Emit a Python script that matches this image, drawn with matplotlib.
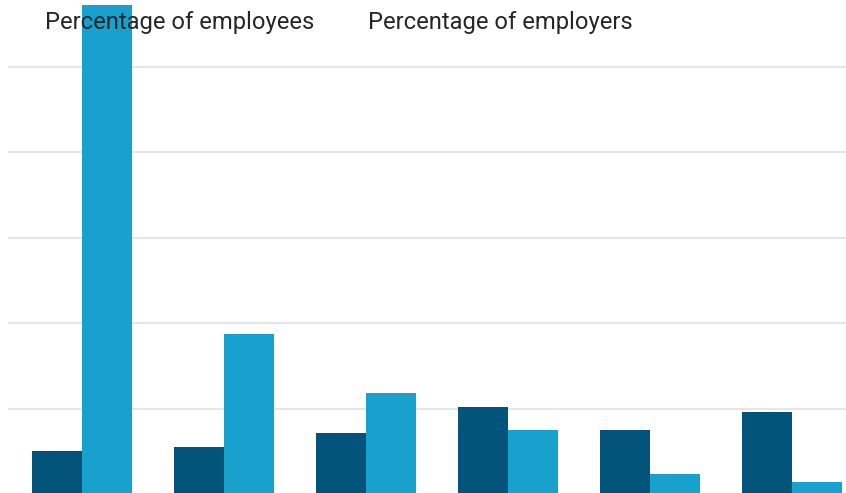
import matplotlib.pyplot as plt
import numpy as np

plt.rcParams['font.family'] = ['Roboto', 'DejaVu Sans']

# data (grid step = 10)
groups = ['1', '2', '3', '4', '5', '6']
employees = [5.1, 5.6, 7.2, 10.2, 7.5, 9.6]
employers = [57.2, 18.8, 11.9, 7.5, 2.4, 1.5]
labels = ['Percentage of employees', 'Percentage of employers']

c_dark = '#03547b'
c_light = '#19a1ce'

fig = plt.figure(figsize=(8.46, 4.93), dpi=100)
ax = fig.add_axes([8/846, -1.6/493, 838/846, 494.6/493])

x = np.arange(len(groups))
w = 0.352
ax.bar(x - w/2, employees, w, color=c_dark, zorder=2)
ax.bar(x + w/2, employers, w, color=c_light, zorder=2)

ax.set_xlim(-0.521, 5.38)
ax.set_ylim(0, 57.8)
ax.set_yticks([10, 20, 30, 40, 50])
ax.grid(axis='y', color='#e6e6e6', linewidth=1.5, zorder=0)
ax.set_axisbelow(True)
ax.tick_params(left=False, bottom=False, labelleft=False, labelbottom=False)
for s in ax.spines.values():
    s.set_visible(False)

# legend texts (no swatches in the original)
fig.text(45/846, 1 - 22.5/493, labels[0], fontsize=17.1, color='#262626',
         va='center', ha='left', zorder=5)
fig.text(367.5/846, 1 - 22.5/493, labels[1], fontsize=17.1, color='#262626',
         va='center', ha='left', zorder=5)

plt.savefig('out.png', dpi=100)
